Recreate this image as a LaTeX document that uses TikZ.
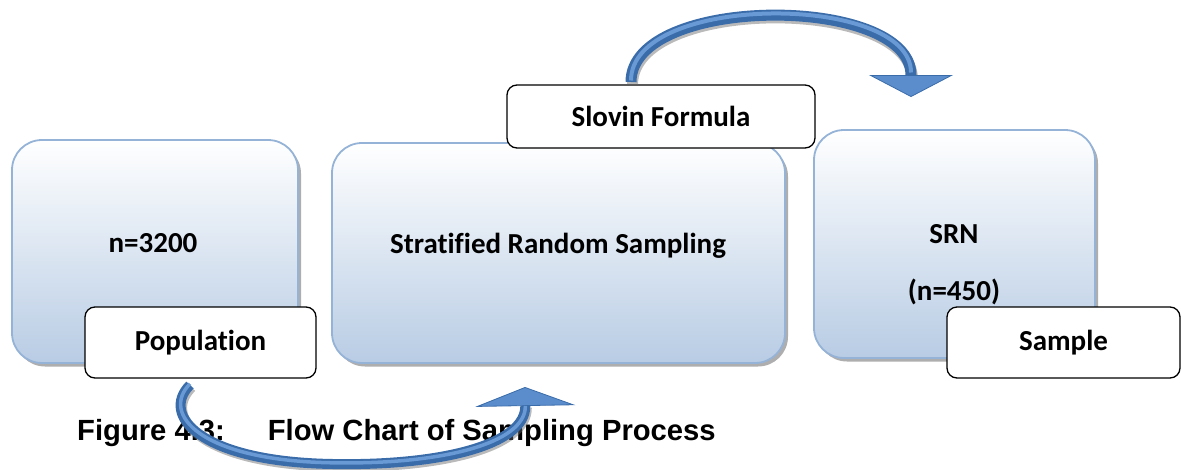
\documentclass[tikz,border=0pt]{standalone}
\usepackage{fontspec}
\setmainfont{Carlito}[Ligatures={NoCommon}]
\newfontfamily\capfont{Liberation Sans}
\usetikzlibrary{arrows.meta,shadows}
\definecolor{boxborder}{HTML}{95B3D7}
\definecolor{boxbot}{HTML}{B8CCE4}
\definecolor{arrowdark}{HTML}{3A6CAA}
\definecolor{arrowlight}{HTML}{6A9AD5}
\definecolor{arrowhead}{HTML}{5B8CCB}
\tikzset{
  bigbox/.style={rounded corners=30pt, draw=boxborder, line width=1.8pt,
    top color=white, bottom color=boxbot, inner sep=0pt,
    drop shadow={shadow xshift=3pt, shadow yshift=-3.5pt, opacity=0.45, fill=black!70}},
  labelbox/.style={draw=black, line width=1.3pt, fill=white, rounded corners=10pt,
    inner sep=0pt, font=\bfseries\fontsize{29}{34}\selectfont},
  boxtext/.style={inner sep=0pt, anchor=base, font=\bfseries\fontsize{29}{34}\selectfont},
  captext/.style={inner sep=0pt, anchor=base west, font=\capfont\bfseries\fontsize{29.2}{34}\selectfont},
  arrowshadow/.style={line width=#1, draw=black!60, opacity=0.45},
  arrowbody/.style={line width=#1, draw=arrowdark},
  arrowshine/.style={line width=#1, draw=arrowlight}
}
\begin{document}
\begin{tikzpicture}[x=1pt,y=-1pt]
\useasboundingbox (0,0) rectangle (1181,469);
% big boxes
\node[bigbox, minimum width=286pt, minimum height=223pt] (pop) at (155,251.5) {};
\node[bigbox, minimum width=453pt, minimum height=220pt] (strat) at (558.5,253) {};
\node[bigbox, minimum width=281pt, minimum height=228pt] (srn) at (954.5,244) {};
% texts in big boxes
\node[boxtext] (popt) at (153,252) {n=3200};
\node[boxtext] (stratt) at (558,253) {Stratified Random Sampling};
\node[boxtext] (srnt) at (954,243) {SRN};
\node[boxtext] (srnn) at (954,300) {(n=450)};
% label boxes
\node[labelbox, minimum width=231pt, minimum height=71pt] (popl) at (200.5,342.5) {Population};
\node[labelbox, minimum width=308pt, minimum height=63pt] (slovin) at (661,116.5) {Slovin Formula};
\node[labelbox, minimum width=233pt, minimum height=71pt] (sample) at (1063.5,342.5) {Sample};
% caption
\node[captext] (cap) at (77,440) {Figure 4.3:\hspace{43pt}Flow Chart of Sampling Process};
% top arrow
\coordinate (a1s) at (631,82);
\coordinate (a1e) at (911,97);
\draw[arrowshadow=11pt, shorten >=20pt, transform canvas={xshift=1.5pt,yshift=-2.5pt}]
  (a1s) .. controls (631,-6) and (911,-6) .. (a1e);
\draw[arrowbody=11pt, -{Triangle[width=84pt,length=22pt,line width=0.8pt,fill=arrowhead]}]
  (a1s) .. controls (631,-6) and (911,-6) .. (a1e);
\draw[arrowshine=4pt, shorten >=23pt, transform canvas={yshift=1.5pt}]
  (a1s) .. controls (631,-6) and (911,-6) .. (a1e);
% bottom arrow
\coordinate (a2s) at (190,385);
\coordinate (a2e) at (525,387);
\draw[arrowshadow=10pt, shorten >=18pt, transform canvas={xshift=1.5pt,yshift=-2.5pt}]
  (a2s) .. controls (160,415) and (200,462) .. (333,464)
        .. controls (440,466) and (526,445) .. (a2e);
\draw[arrowbody=10pt, -{Triangle[width=100pt,length=19pt,line width=0.8pt,fill=arrowhead]}]
  (a2s) .. controls (160,415) and (200,462) .. (333,464)
        .. controls (440,466) and (526,445) .. (a2e);
\draw[arrowshine=3.5pt, shorten >=20pt, transform canvas={yshift=1.2pt}]
  (a2s) .. controls (160,415) and (200,462) .. (333,464)
        .. controls (440,466) and (526,445) .. (a2e);
\end{tikzpicture}
\end{document}
